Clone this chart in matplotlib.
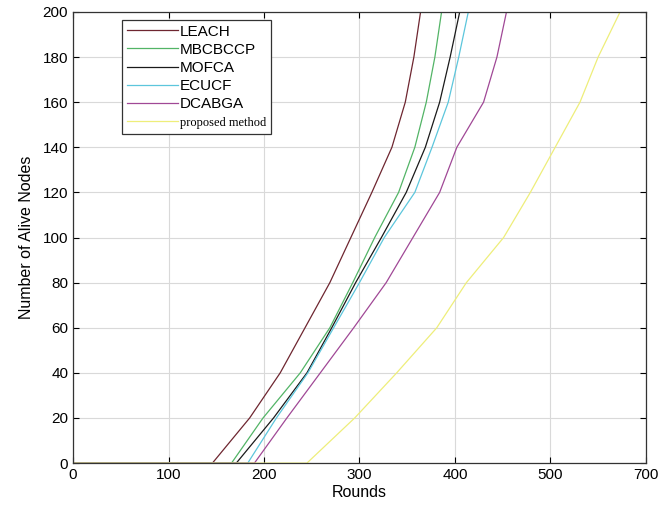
"""
alive_nodes.py
"""

import numpy as np
from matplotlib import pyplot as plt

plt.rcParams['font.family'] = ['Liberation Sans', 'DejaVu Sans']

levels = [0, 20, 40, 60, 80, 100, 120, 140, 160, 180, 200]

leach_x = [146, 185, 217, 243, 269, 291, 313, 334, 348, 357, 364]
mbcbccp_x = [166, 199, 238, 269, 293, 316, 341, 358, 370, 379, 386]
mofca_x = [171, 210, 245, 271, 296, 323, 349, 369, 384, 395, 405]
ecucf_x = [183, 213, 246, 273, 300, 326, 358, 376, 393, 404, 414]
dcabga_x = [190, 224, 259, 294, 328, 356, 384, 402, 430, 444, 454]
proposed_x = [245, 295, 339, 381, 412, 451, 479, 505, 531, 550, 573]

names = ['LEACH', 'MBCBCCP', 'MOFCA', 'ECUCF', 'DCABGA', 'proposed method']
colours = ['#6e2630', '#52b466', '#1a1a1a', '#5cc6dc', '#a04896', '#eeee7a']

xticks = [0, 100, 200, 300, 400, 500, 600]
xtick_labels = ['0', '100', '200', '300', '400', '500', '700']
yticks = np.arange(0, 201, 20)


def main():
    fig = plt.figure(figsize=(6.7, 5.18), dpi=100)
    ax = fig.add_axes([0.109, 0.106, 0.855, 0.871])

    all_x = [leach_x, mbcbccp_x, mofca_x, ecucf_x, dcabga_x, proposed_x]
    for xs, name, col in zip(all_x, names, colours):
        ax.plot([0] + xs, [0] + levels, color=col, lw=0.9, label=name)

    ax.set_xlim(0, 600)
    ax.set_ylim(0, 200)
    ax.set_xticks(xticks)
    ax.set_xticklabels(xtick_labels)
    ax.set_yticks(yticks)
    ax.grid(True, color='#d9d9d9', lw=0.8)
    ax.tick_params(direction='in', top=True, right=True, labelsize=11,
                   length=4, width=0.8)
    for s in ax.spines.values():
        s.set_color('#333333')
        s.set_linewidth(0.9)

    ax.set_xlabel('Rounds', fontsize=11.5, labelpad=2)
    ax.set_ylabel('Number of Alive Nodes', fontsize=11.5, labelpad=6)

    leg = ax.legend(loc='upper left', bbox_to_anchor=(0.0855, 0.982),
                    borderaxespad=0, fontsize=11, handlelength=3.35,
                    handletextpad=0.15, borderpad=0.3, labelspacing=0.27,
                    fancybox=False, framealpha=1, edgecolor='#333333')
    leg.get_frame().set_linewidth(0.9)
    leg.get_texts()[-1].set_family('Liberation Serif')
    leg.get_texts()[-1].set_fontsize(9)

    fig.savefig('out.png', dpi=100)


if __name__ == '__main__':
    main()
